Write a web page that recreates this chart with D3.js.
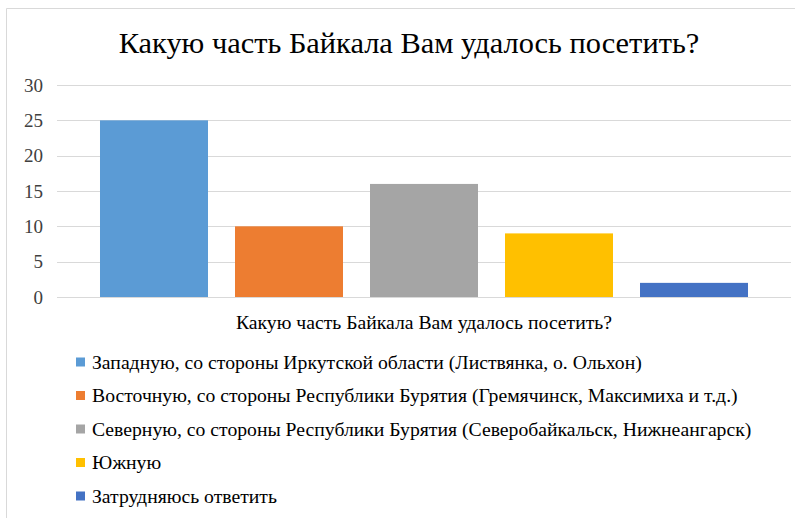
<!DOCTYPE html>
<html><head><meta charset="utf-8">
<script src="https://cdn.jsdelivr.net/npm/d3@7"></script>
<style>body{margin:0;background:#fff;}</style>
</head><body>
<svg id="c" width="795" height="518"></svg>
<script>
const title = "Какую часть Байкала Вам удалось посетить?";
const categories = [
  "Западную, со стороны Иркутской области (Листвянка, о. Ольхон)",
  "Восточную, со стороны Республики Бурятия (Гремячинск, Максимиха и т.д.)",
  "Северную, со стороны Республики Бурятия (Северобайкальск, Нижнеангарск)",
  "Южную",
  "Затрудняюсь ответить"
];
const values = [25, 10, 16, 9, 2];
const colors = ["#5B9BD5", "#ED7D31", "#A5A5A5", "#FFC000", "#4472C4"];
const yTicks = [0, 5, 10, 15, 20, 25, 30];

const FONT = '"Liberation Serif"';
const svg = d3.select("#c");
svg.append("path").attr("d","M6.5,518 V8.5 H795").attr("fill","none").attr("stroke","#D9D9D9").attr("stroke-width",1);

const x = d3.scaleBand().domain(categories).range([57, 791]).paddingInner(0.2).paddingOuter(0.3185);
const y = d3.scaleLinear().domain([0, 30]).range([297, 85]);

svg.append("g").selectAll("line").data(yTicks).join("line")
  .attr("x1", 57).attr("x2", 791)
  .attr("y1", d => Math.round(y(d)) + 0.5).attr("y2", d => Math.round(y(d)) + 0.5)
  .attr("stroke", "#D9D9D9").attr("stroke-width", 1);

const yAxis = d3.axisLeft(y).tickValues(yTicks).tickSize(0).tickPadding(0);
const ga = svg.append("g").attr("transform", "translate(43,0)").call(yAxis);
ga.select(".domain").remove();
ga.selectAll("text").style("font-family", FONT).style("font-size", "19px").attr("fill", "#404040");

svg.append("g").selectAll("rect").data(values).join("rect")
  .attr("x", (d, i) => x(categories[i]))
  .attr("width", x.bandwidth())
  .attr("y", d => y(d))
  .attr("height", d => y(0) - y(d))
  .attr("fill", (d, i) => colors[i]);

svg.append("text").attr("x", 409).attr("y", 53).attr("text-anchor", "middle")
  .style("font-family", FONT).style("font-size", "30.4px").attr("fill", "#000").text(title);

svg.append("text").attr("x", 424).attr("y", 329).attr("text-anchor", "middle")
  .style("font-family", FONT).style("font-size", "19.7px").attr("fill", "#000").text(title);

const lg = svg.append("g").selectAll("g").data(categories).join("g")
  .attr("transform", (d, i) => `translate(76,${362 + i * 33.5})`);
lg.append("rect").attr("x", 0).attr("y", -4.5).attr("width", 9).attr("height", 9)
  .attr("fill", (d, i) => colors[i]);
lg.append("text").attr("x", 16).attr("y", 6.5).style("font-family", FONT)
  .style("font-size", "19.7px").attr("fill", "#000").text(d => d);
</script>
</body></html>
